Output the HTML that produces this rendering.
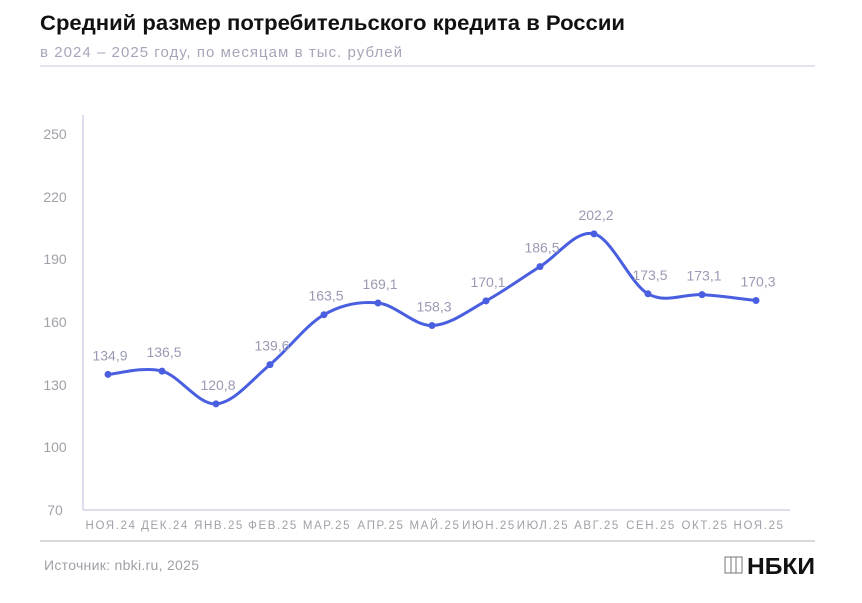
<!DOCTYPE html>
<html><head><meta charset="utf-8"><style>
body{margin:0;background:#fff;width:862px;height:598px;overflow:hidden;font-family:"Liberation Sans",sans-serif}
</style></head><body>
<svg id="s" width="862" height="598" xmlns="http://www.w3.org/2000/svg" font-family="Liberation Sans, sans-serif">
<text x="40" y="30" font-size="21" font-weight="bold" fill="#111" textLength="585" lengthAdjust="spacingAndGlyphs">Средний размер потребительского кредита в России</text>
<text x="40" y="57" font-size="15" fill="#a6a6ba" textLength="362" lengthAdjust="spacing">в 2024 – 2025 году, по месяцам в тыс. рублей</text>
<line x1="40" y1="66" x2="815" y2="66" stroke="#c8c8d8" stroke-width="1"/>
<line x1="83" y1="115" x2="83" y2="510" stroke="#d4d4e8" stroke-width="1.5"/>
<line x1="83" y1="510" x2="790" y2="510" stroke="#d4d4e8" stroke-width="1.5"/>
<g font-size="14" fill="#a0a0a8" text-anchor="middle">
<text x="55" y="139">250</text><text x="55" y="202">220</text><text x="55" y="264">190</text>
<text x="55" y="327">160</text><text x="55" y="390">130</text><text x="55" y="452">100</text><text x="55" y="515">70</text>
</g>
<g id="xl" font-size="11.5" fill="#a0a0a8" text-anchor="middle" letter-spacing="1.6"></g>
<path id="ln" fill="none" stroke="#4a5fe0" stroke-width="3"/>
<g id="pts"></g>
<line x1="40" y1="541" x2="815" y2="541" stroke="#b0b0b8" stroke-width="1"/>
<text x="44" y="570" font-size="14" fill="#a0a0a8" textLength="155" lengthAdjust="spacing">Источник: nbki.ru, 2025</text>
<g stroke="#777" fill="none" stroke-width="1"><rect x="725" y="557" width="17" height="16"/><line x1="731" y1="557" x2="731" y2="573"/><line x1="736" y1="557" x2="736" y2="573"/></g>
<text x="747" y="574" font-size="23" font-weight="bold" fill="#111" textLength="68" lengthAdjust="spacingAndGlyphs">НБКИ</text>
</svg>
<script>
var v=[134.9,136.5,120.8,139.6,163.5,169.1,158.3,170.1,186.5,202.2,173.5,173.1,170.3];
var m=["НОЯ.24","ДЕК.24","ЯНВ.25","ФЕВ.25","МАР.25","АПР.25","МАЙ.25","ИЮН.25","ИЮЛ.25","АВГ.25","СЕН.25","ОКТ.25","НОЯ.25"];
var P=v.map(function(a,i){return[108+i*54,510-(a-70)*2.0889]});
var d="M"+P[0][0]+","+P[0][1];
for(var i=0;i<P.length-1;i++){var p0=P[Math.max(0,i-1)],p1=P[i],p2=P[i+1],p3=P[Math.min(P.length-1,i+2)];
d+=" C"+(p1[0]+(p2[0]-p0[0])/6)+","+(p1[1]+(p2[1]-p0[1])/6)+" "+(p2[0]-(p3[0]-p1[0])/6)+","+(p2[1]-(p3[1]-p1[1])/6)+" "+p2[0]+","+p2[1];}
document.getElementById("ln").setAttribute("d",d);
var ns="http://www.w3.org/2000/svg",g=document.getElementById("pts"),xl=document.getElementById("xl");
P.forEach(function(p,i){var c=document.createElementNS(ns,"circle");c.setAttribute("cx",p[0]);c.setAttribute("cy",p[1]);c.setAttribute("r",3.5);c.setAttribute("fill","#4a5fe0");g.appendChild(c);
var t=document.createElementNS(ns,"text");t.setAttribute("x",p[0]+2);t.setAttribute("y",p[1]-14);t.setAttribute("font-size","14");t.setAttribute("fill","#9a9ab4");t.setAttribute("text-anchor","middle");t.textContent=v[i].toFixed(1).replace(".",",");g.appendChild(t);
var u=document.createElementNS(ns,"text");u.setAttribute("x",p[0]+3);u.setAttribute("y",529);u.textContent=m[i];xl.appendChild(u);});
</script>
</body></html>
